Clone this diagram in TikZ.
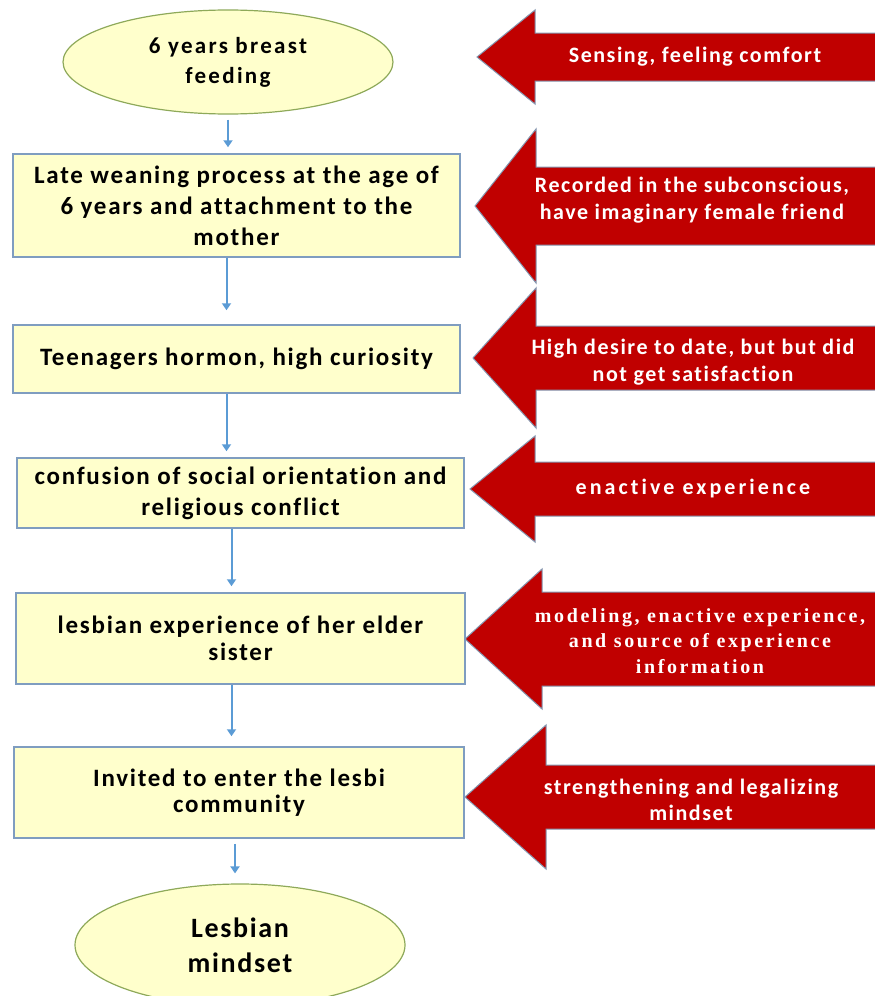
\documentclass[tikz,border=0pt]{standalone}
\usepackage{fontspec}
\setmainfont{Carlito}
\newfontfamily\serifbf{Liberation Serif}[LetterSpace=13]
\usetikzlibrary{shapes.geometric,arrows.meta}

\definecolor{boxfill}{RGB}{255,255,204}
\definecolor{boxline}{RGB}{127,157,192}
\definecolor{ellline}{RGB}{142,169,90}
\definecolor{arrowred}{RGB}{192,0,0}
\definecolor{arrowline}{RGB}{132,151,176}
\definecolor{flowblue}{RGB}{91,155,213}

% spaced bold Carlito: size, leading, letter space
\newcommand\spacedbf[3]{\fontsize{#1}{#2}\selectfont\bfseries
  \addfontfeature{LetterSpace=#3,Ligatures=CommonOff}}

\tikzset{
  stagebox/.style={draw=boxline,fill=boxfill,line width=1.5pt,minimum width=447pt,
    align=center,font=\spacedbf{25}{31}{7}},
  endpoint/.style={ellipse,draw=ellline,fill=boxfill,line width=1.2pt,
    minimum width=330pt,align=center},
  flow/.style={flowblue,line width=2pt,-{Triangle[width=9pt,length=7pt]},shorten >=6pt},
  redarrow/.style={fill=arrowred,draw=arrowline,line width=1pt},
  redtext/.style={text=white,align=center,font=\spacedbf{22}{26.5}{7}}
}

\begin{document}
\begin{tikzpicture}[x=1pt,y=-1pt]
\useasboundingbox (0,0) rectangle (875,996);

% red arrows on the right: tip x / centre y / back x / half head / half shaft
\foreach \tx/\cy/\bx/\hh/\sh in {477/57/535/47/24, 475/206/536/77/39, 473/358/536/70/32,
    470/489/535/53/27, 465/639/542/70/47, 465/797/546/72/32}
  \draw[redarrow] (\tx,\cy) -- (\bx,\cy-\hh) -- (\bx,\cy-\sh) -- (878,\cy-\sh)
    -- (878,\cy+\sh) -- (\bx,\cy+\sh) -- (\bx,\cy+\hh) -- cycle;

\node[redtext] (sense) at (695,57) {Sensing, feeling comfort};
\node[redtext] (record) at (692,200) {Recorded in the subconscious,\\have imaginary female friend};
\node[redtext] (desire) at (693,362) {High desire to date, but but did\\not get satisfaction};
\node[redtext,font=\spacedbf{22}{26.5}{14}] (enact) at (693,489) {enactive experience};
\node[redtext,font=\serifbf\bfseries\fontsize{20}{25.5}\selectfont] (model) at (700,641)
  {modeling, enactive experience,\\and source of experience\\information};
\node[redtext] (strength) at (691,800) {strengthening and legalizing\\mindset};

% flow on the left
\node[endpoint,minimum height=104pt,font=\spacedbf{23}{30}{10}] (feed) at (228,62)
  {6 years breast\\feeding};
\node[stagebox,minimum height=103pt] (wean) at (236.5,205.5)
  {Late weaning process at the age of\\6 years and attachment to the\\mother};
\node[stagebox,minimum height=68pt] (teen) at (236.5,359) {Teenagers hormon, high curiosity};
\node[stagebox,minimum height=70pt] (confuse) at (240.5,493)
  {confusion of social orientation and\\religious conflict};
\node[stagebox,minimum height=91pt,minimum width=449pt,font=\spacedbf{25}{27}{7}]
  (sister) at (240.5,638.5) {lesbian experience of her elder\\sister};
\node[stagebox,minimum height=91pt,minimum width=450pt,font=\spacedbf{25}{26}{7}]
  (invite) at (239,792.5) {Invited to enter the lesbi\\community};
\node[endpoint,minimum height=122pt,font=\spacedbf{28}{35}{6}] (mind) at (240,945)
  {Lesbian\\mindset};

\draw[flow,shorten <=5pt] (feed.south) -- (feed.south |- wean.north);
\draw[flow,shorten >=14pt] ([xshift=-10pt]wean.south) -- ([xshift=-10pt]wean.south |- teen.north);
\draw[flow] ([xshift=-10pt]teen.south) -- ([xshift=-10pt]teen.south |- confuse.north);
\draw[flow] ([xshift=-9pt]confuse.south) -- ([xshift=-9pt]confuse.south |- sister.north);
\draw[flow,shorten >=10pt] ([xshift=-9pt]sister.south) -- ([xshift=-9pt]sister.south |- invite.north);
\draw[flow,shorten <=5pt,shorten >=10pt] ([xshift=-4pt]invite.south)
  -- ([xshift=-4pt]invite.south |- mind.north);
\end{tikzpicture}
\end{document}
